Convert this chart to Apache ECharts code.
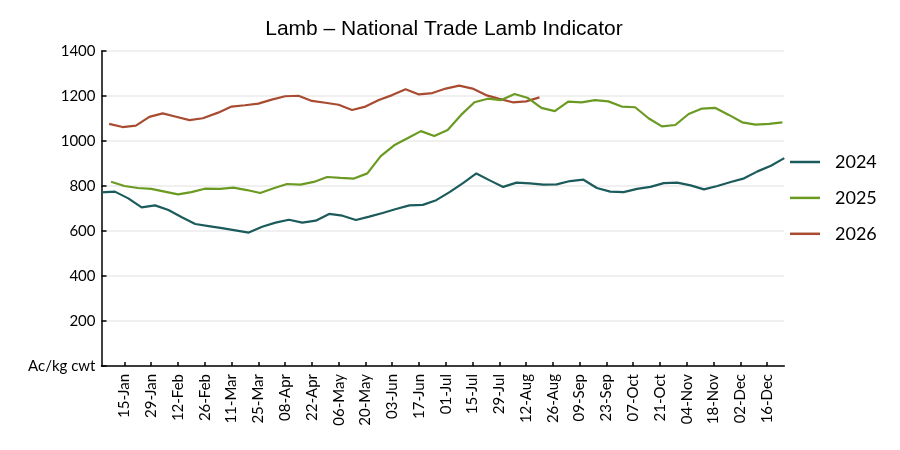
<!DOCTYPE html>
<html>
<head>
<meta charset="utf-8">
<script src="https://cdn.jsdelivr.net/npm/echarts@6/dist/echarts.min.js"></script>
<style>
html,body{margin:0;padding:0;background:#fff;}
#chart{width:900px;height:450px;}
</style>
</head>
<body>
<div id="chart"></div>
<script>
// ---- Data (A¢/kg cwt), weekly Wednesday readings ----
const seriesNames = ['2024', '2025', '2026'];
const startDates = ['2024-01-03', '2025-01-08', '2026-01-07'];

const values2024 = [772, 775, 745, 705, 714, 693, 661, 631, 622, 613, 603, 593, 619, 637, 650, 637,
  646, 676, 668, 649, 664, 680, 698, 714, 716, 737, 773, 813, 856, 825, 796, 815, 812, 806, 807,
  822, 828, 791, 775, 773, 787, 796, 813, 815, 803, 785, 800, 818, 834, 865, 890, 924];

const values2025 = [819, 800, 791, 787, 775, 763, 773, 788, 787, 793, 782, 769, 790, 809, 806, 818,
  840, 836, 833, 856, 933, 981, 1012, 1044, 1022, 1049, 1116, 1172, 1188, 1182, 1209, 1191, 1147,
  1133, 1175, 1172, 1182, 1176, 1153, 1150, 1101, 1065, 1071, 1120, 1144, 1147, 1116, 1083, 1073,
  1076, 1083];

const values2026 = [1076, 1062, 1068, 1107, 1123, 1108, 1093, 1101, 1126, 1153, 1159, 1166, 1184,
  1199, 1201, 1178, 1170, 1161, 1138, 1153, 1182, 1204, 1230, 1207, 1213, 1233, 1246, 1233, 1204,
  1187, 1172, 1176, 1194];

const tickLabels = ['15-Jan', '29-Jan', '12-Feb', '26-Feb', '11-Mar', '25-Mar', '08-Apr', '22-Apr',
  '06-May', '20-May', '03-Jun', '17-Jun', '01-Jul', '15-Jul', '29-Jul', '12-Aug', '26-Aug',
  '09-Sep', '23-Sep', '07-Oct', '21-Oct', '04-Nov', '18-Nov', '02-Dec', '16-Dec'];

const yTicks = [0, 200, 400, 600, 800, 1000, 1200, 1400];
const yUnitLabel = 'Ac/kg cwt';
const colors = ['#1c5b5b', '#6b9a22', '#a84b31'];

// ---- helpers: map month/day onto a common 2024 day-of-year axis ----
const MONTHS = ['Jan','Feb','Mar','Apr','May','Jun','Jul','Aug','Sep','Oct','Nov','Dec'];
const DAY = 86400000;
function dayOf2024(m, d) { return (Date.UTC(2024, m, d) - Date.UTC(2024, 0, 0)) / DAY; }
function labelToDay(lbl) { const p = lbl.split('-'); return dayOf2024(MONTHS.indexOf(p[1]), +p[0]); }
function weeklyPoints(start, vals) {
  const p = start.split('-').map(Number);
  const t0 = Date.UTC(p[0], p[1] - 1, p[2]);
  return vals.map((v, i) => {
    const dt = new Date(t0 + i * 7 * DAY);
    return [dayOf2024(dt.getUTCMonth(), dt.getUTCDate()), v];
  });
}
const tickDays = tickLabels.map(labelToDay);
const allValues = [values2024, values2025, values2026];
const seriesPoints = allValues.map((v, i) => weeklyPoints(startDates[i], v));
const xMin = seriesPoints[0][0][0];
const xMax = seriesPoints[0][seriesPoints[0].length - 1][0];

const chart = echarts.init(document.getElementById('chart'), null, { renderer: 'canvas' });
const FONT = 'Lato';
chart.setOption({
  animation: false,
  backgroundColor: '#ffffff',
  title: {
    text: 'Lamb \u2013 National Trade Lamb Indicator',
    left: 444, top: 19, textAlign: 'center', padding: 0,
    textStyle: { fontFamily: 'Liberation Sans', fontSize: 21, fontWeight: 'normal', color: '#000' }
  },
  legend: {
    orient: 'vertical', left: 790, top: 153, padding: 0,
    itemWidth: 30, itemHeight: 2.5, itemGap: 17.9,
    icon: 'rect',
    data: seriesNames,
    textStyle: { fontFamily: FONT, fontSize: 18, color: '#000', padding: [0, 0, 0, 10] }
  },
  grid: { left: 101.5, right: 115.7, top: 51, bottom: 84, outerBoundsMode: 'none', containLabel: false },
  xAxis: {
    type: 'value', min: xMin, max: xMax,
    axisLine: { show: true, lineStyle: { color: '#000', width: 1.5 } },
    axisTick: { show: true, inside: true, length: 4, customValues: tickDays, lineStyle: { color: '#000', width: 1.5 } },
    axisLabel: {
      customValues: tickDays, rotate: 90, margin: 8,
      fontFamily: FONT, fontSize: 15, color: '#000',
      formatter: function (v) { const i = tickDays.indexOf(v); return i >= 0 ? tickLabels[i] : ''; }
    },
    splitLine: { show: false }
  },
  yAxis: {
    type: 'value', min: yTicks[0], max: yTicks[yTicks.length - 1], interval: 200,
    axisLine: { show: true, lineStyle: { color: '#000', width: 1.5 } },
    axisTick: { show: true, inside: true, length: 5, lineStyle: { color: '#000', width: 1.5 } },
    axisLabel: {
      margin: 6, fontFamily: FONT, fontSize: 15, color: '#000',
      formatter: function (v) { return v === 0 ? yUnitLabel : String(v); }
    },
    splitLine: { show: true, lineStyle: { color: '#ebebeb', width: 1.5 } }
  },
  series: seriesNames.map((name, i) => ({
    name: name, type: 'line', data: seriesPoints[i],
    symbol: 'none', smooth: false,
    lineStyle: { color: colors[i], width: 2.2 },
    itemStyle: { color: colors[i] },
    z: 3 - i
  }))
});
</script>
</body>
</html>
